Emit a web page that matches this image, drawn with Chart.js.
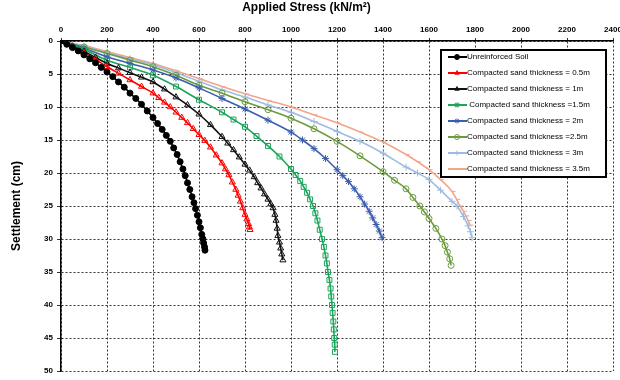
<!DOCTYPE html>
<html>
<head>
<meta charset="utf-8">
<script src="https://cdn.jsdelivr.net/npm/chart.js@4/dist/chart.umd.min.js"></script>
<style>
  html, body { margin: 0; padding: 0; background: #fff; }
  #wrap { width: 620px; height: 380px; }
</style>
</head>
<body>
<div id="wrap"><canvas id="chart" width="620" height="380"></canvas></div>
<script>
// === AXIS TICKS ===
const stressTicks = [0, 200, 400, 600, 800, 1000, 1200, 1400, 1600, 1800, 2000, 2200, 2400];
const settleTicks = [0, 5, 10, 15, 20, 25, 30, 35, 40, 45, 50];

// === SERIES (applied stress kN/m2, settlement cm) ===
const soilStress = [0, 25, 50, 75, 100, 125, 150, 175, 200, 225, 250, 275, 300, 325, 350, 375, 400, 420, 440, 458, 475, 490, 505, 518, 530, 540, 550, 560, 570, 578, 585, 593, 600, 606, 612, 617, 620, 624, 626];
const soilSettle = [0, 0.5, 1.0, 1.5, 2.1, 2.7, 3.3, 4.0, 4.7, 5.4, 6.2, 7.0, 7.9, 8.7, 9.6, 10.6, 11.6, 12.5, 13.4, 14.3, 15.2, 16.2, 17.2, 18.3, 19.4, 20.4, 21.5, 22.5, 23.6, 24.5, 25.4, 26.4, 27.4, 28.3, 29.3, 30.0, 30.6, 31.2, 31.7];

const s05Stress = [0, 50, 100, 150, 200, 250, 300, 350, 400, 425, 450, 475, 500, 525, 550, 575, 600, 625, 650, 675, 700, 715, 730, 745, 760, 770, 780, 790, 800, 808, 815, 819, 822];
const s05Settle = [0, 0.9, 1.8, 2.8, 3.9, 4.9, 5.9, 6.9, 7.9, 8.6, 9.3, 10.0, 10.8, 11.6, 12.4, 13.3, 14.2, 15.1, 16.1, 17.3, 18.5, 19.4, 20.3, 21.4, 22.5, 23.4, 24.3, 25.3, 26.3, 27.0, 27.7, 28.2, 28.6];

const s1Stress = [0, 50, 100, 150, 200, 250, 300, 350, 400, 450, 500, 550, 600, 650, 700, 725, 750, 775, 800, 820, 840, 855, 870, 885, 900, 912, 922, 930, 935, 940, 943, 950, 955, 960, 965];
const s1Settle = [0, 0.8, 1.6, 2.5, 3.4, 4.1, 4.8, 5.5, 6.2, 7.3, 8.5, 9.7, 11.1, 12.7, 14.5, 15.5, 16.5, 17.6, 18.7, 19.6, 20.6, 21.5, 22.3, 23.2, 24.0, 24.7, 25.3, 26.3, 27.2, 28.4, 29.5, 30.5, 31.4, 32.3, 33.2];

const s15Stress = [0, 100, 200, 300, 400, 500, 600, 700, 750, 800, 850, 900, 950, 1000, 1020, 1040, 1055, 1070, 1083, 1096, 1106, 1115, 1125, 1135, 1143, 1150, 1156, 1161, 1167, 1172, 1175, 1178, 1181, 1184, 1186, 1188, 1190, 1191];
const s15Settle = [0, 1.3, 2.9, 4.0, 5.2, 6.9, 8.9, 10.8, 11.9, 13.0, 14.4, 15.9, 17.5, 19.4, 20.3, 21.2, 22.1, 23.0, 24.0, 25.0, 26.1, 27.2, 28.6, 30.0, 31.2, 32.5, 33.7, 35.0, 36.2, 37.5, 38.7, 40.0, 41.2, 42.5, 43.7, 45.0, 46.0, 47.1];

const s2Stress = [0, 100, 200, 300, 400, 500, 600, 700, 800, 900, 1000, 1050, 1100, 1150, 1200, 1225, 1250, 1275, 1300, 1320, 1340, 1355, 1370, 1384, 1396];
const s2Settle = [0, 1.1, 2.4, 3.4, 4.4, 5.6, 7.1, 8.7, 10.3, 12.0, 13.8, 15.0, 16.3, 17.8, 19.5, 20.4, 21.3, 22.4, 23.6, 24.7, 25.8, 26.8, 27.8, 28.8, 29.8];

const s25Stress = [0, 100, 200, 300, 400, 500, 600, 700, 800, 900, 1000, 1100, 1200, 1300, 1400, 1450, 1500, 1530, 1560, 1580, 1600, 1630, 1656, 1670, 1680, 1690, 1696];
const s25Settle = [0, 0.9, 1.9, 2.9, 3.9, 5.2, 6.7, 7.9, 9.2, 10.4, 11.7, 13.3, 15.2, 17.4, 19.8, 21.1, 22.4, 23.7, 25.0, 25.9, 26.9, 28.4, 30.0, 31.0, 32.0, 33.0, 34.0];

const s3Stress = [0, 100, 200, 300, 400, 500, 600, 700, 800, 900, 1000, 1100, 1200, 1300, 1400, 1500, 1550, 1600, 1650, 1700, 1722, 1750, 1770, 1780, 1787];
const s3Settle = [0, 0.8, 1.8, 2.7, 3.6, 4.8, 6.1, 7.4, 8.5, 9.7, 10.8, 12.2, 13.7, 15.2, 17.0, 19.1, 20.0, 21.0, 22.6, 24.3, 25.0, 26.6, 28.0, 28.9, 29.8];

const s35Stress = [0, 100, 200, 300, 400, 500, 600, 700, 800, 900, 1000, 1100, 1200, 1300, 1400, 1500, 1550, 1600, 1650, 1700, 1720, 1735, 1750, 1760, 1770, 1778];
const s35Settle = [0, 0.7, 1.6, 2.5, 3.4, 4.5, 5.7, 6.9, 8.0, 9.0, 10.0, 11.2, 12.4, 13.8, 15.3, 17.2, 18.3, 19.5, 21.0, 22.8, 24.0, 25.0, 25.8, 26.5, 27.2, 27.9];

const seriesLabels = [
  "Unreinforced Soil",
  "Compacted sand thickness = 0.5m",
  "Compacted sand thickness = 1m",
  " Compacted sand thickness =1.5m",
  "Compacted sand thickness = 2m",
  "Compacted sand thickness =2.5m",
  "Compacted sand thickness = 3m",
  "Compacted sand thickness = 3.5m"
];

// === HELPERS ===
function pairs(xs, ys) {
  return xs.map((x, i) => ({ x: x, y: ys[i] }));
}

function makeSet(i, xs, ys, color, style, fill, radius) {
  return {
    label: seriesLabels[i],
    data: pairs(xs, ys),
    borderColor: color,
    backgroundColor: color,
    borderWidth: 1.6,
    pointStyle: style,
    pointRadius: radius,
    pointBorderWidth: 1,
    pointBorderColor: color,
    pointBackgroundColor: fill,
    cubicInterpolationMode: "monotone",
    fill: false
  };
}

const none = "rgba(255,255,255,0)";

const datasets = [
  makeSet(0, soilStress, soilSettle, "#000000", "circle", "#000000", 3),
  makeSet(1, s05Stress, s05Settle, "#ff0000", "triangle", none, 3.5),
  makeSet(2, s1Stress, s1Settle, "#111111", "triangle", none, 3.5),
  makeSet(3, s15Stress, s15Settle, "#1aa55a", "rect", none, 3.5),
  makeSet(4, s2Stress, s2Settle, "#3b5eae", "star", none, 3.5),
  makeSet(5, s25Stress, s25Settle, "#6a9b3d", "circle", none, 3),
  makeSet(6, s3Stress, s3Settle, "#9ebce3", "cross", none, 3.5),
  makeSet(7, s35Stress, s35Settle, "#f2a58a", "dash", none, 3.5)
];

// === LEGEND BOX (drawn inside plot, top right) ===
const legendBox = {
  id: "legendBox",
  afterDraw(chart) {
    const ctx = chart.ctx;
    ctx.save();
    ctx.fillStyle = "#fff";
    ctx.fillRect(441, 50, 165, 127);
    ctx.lineWidth = 2;
    ctx.strokeStyle = "#000";
    ctx.strokeRect(441, 50, 165, 127);

    chart.data.datasets.forEach((ds, i) => {
      const y = 57 + i * 16;
      ctx.strokeStyle = ds.borderColor;
      ctx.lineWidth = 2;
      ctx.beginPath();
      ctx.moveTo(448, y);
      ctx.lineTo(467, y);
      ctx.stroke();

      if (Chart.helpers && Chart.helpers.drawPoint) {
        ctx.fillStyle = ds.pointBackgroundColor;
        ctx.strokeStyle = ds.borderColor;
        ctx.lineWidth = 1;
        Chart.helpers.drawPoint(ctx, {
          pointStyle: ds.pointStyle, radius: 2.5, rotation: 0, borderWidth: 1
        }, 457, y);
      }

      ctx.fillStyle = "#000";
      ctx.font = '8px "Liberation Sans", Arial, sans-serif';
      ctx.textBaseline = "middle";
      ctx.textAlign = "left";
      ctx.fillText(ds.label, 467, y);
    });
    ctx.restore();
  }
};

Chart.defaults.font.family = '"Liberation Sans", Arial, sans-serif';
Chart.defaults.color = "#000";

new Chart(document.getElementById("chart"), {
  type: "line",
  data: { datasets: datasets },
  options: {
    responsive: false,
    animation: false,
    layout: { padding: { left: 0, right: 7, top: 0, bottom: 9 } },
    plugins: {
      legend: { display: false },
      tooltip: { enabled: false },
      title: {
        display: true,
        text: "Applied Stress (kN/m\u00b2)",
        color: "#000",
        font: { size: 12, weight: "bold" },
        padding: { top: 0, bottom: 2 }
      }
    },
    scales: {
      x: {
        type: "linear",
        position: "top",
        min: 0,
        max: 2400,
        afterBuildTicks: (scale) => { scale.ticks = stressTicks.map(v => ({ value: v })); },
        afterFit: (scale) => { scale.height = 24.6; scale.paddingLeft = 0; scale.paddingRight = 0; },
        ticks: { font: { size: 8, weight: "bold" }, color: "#000", padding: 3, maxRotation: 0, callback: (v) => String(v) },
        grid: { color: "#333", lineWidth: 1, tickLength: 3 },
        border: { display: true, color: "#000", width: 1.5, dash: [2, 2] }
      },
      y: {
        type: "linear",
        reverse: true,
        min: 0,
        max: 50,
        afterBuildTicks: (scale) => { scale.ticks = settleTicks.map(v => ({ value: v })); },
        afterFit: (scale) => { scale.width = 61; },
        ticks: { font: { size: 8, weight: "bold" }, color: "#000", padding: 4, callback: (v) => String(v) },
        grid: { color: "#333", lineWidth: 1, tickLength: 4 },
        border: { display: true, color: "#000", width: 1.5, dash: [2, 2] },
        title: {
          display: true,
          text: "Settlement (cm)",
          color: "#000",
          font: { size: 12, weight: "bold" },
          padding: { top: 9, bottom: 0 }
        }
      }
    }
  },
  plugins: [legendBox]
});
</script>
</body>
</html>
